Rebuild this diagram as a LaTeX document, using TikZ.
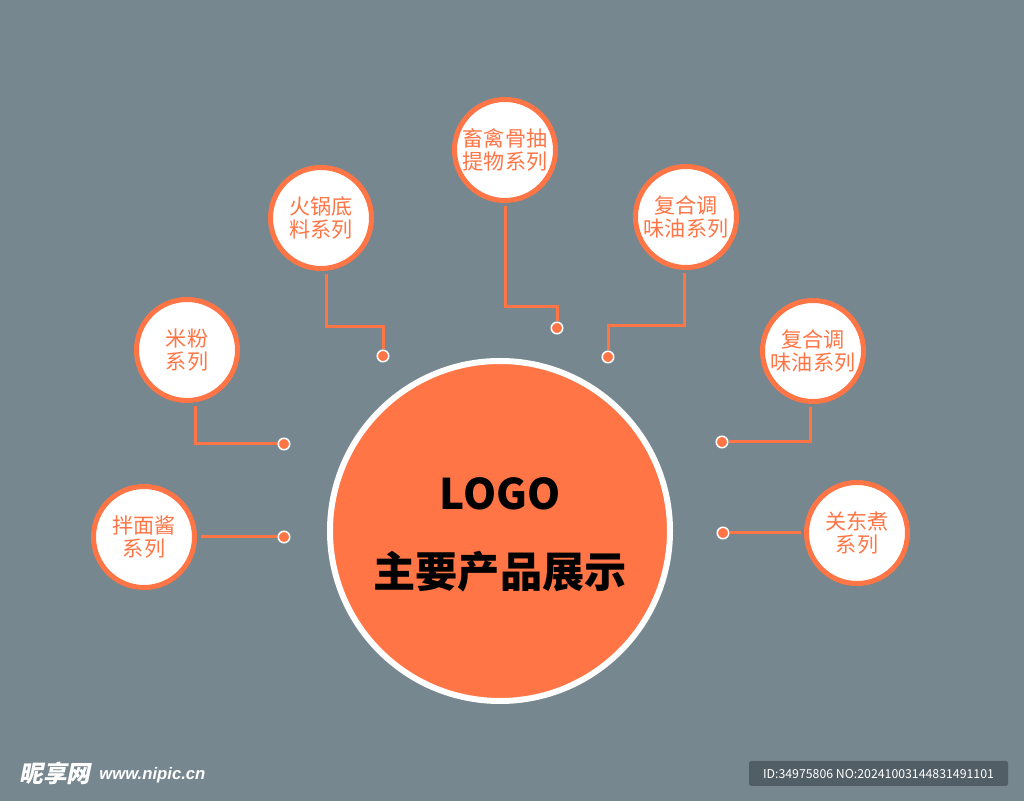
\documentclass[tikz,border=0pt]{standalone}
\usepackage{fontspec}
\setmainfont{Noto Sans CJK SC}
\newfontfamily\markfont[FakeSlant=0.2]{Noto Sans CJK SC}
\newfontfamily\webfont{Liberation Sans}
\pgfdeclarelayer{bglayer}
\pgfdeclarelayer{edgelayer}
\pgfdeclarelayer{nodelayer}
\pgfsetlayers{bglayer,edgelayer,nodelayer,main}
\definecolor{slate}{RGB}{119,135,143}
\definecolor{tangerine}{RGB}{255,117,69}
\definecolor{tagbox}{RGB}{82,94,102}
\tikzstyle{hub}=[circle,fill=tangerine,draw=white,line width=1.2mm,minimum size=68mm,inner sep=0pt,align=center,font=\bfseries\fontsize{24pt}{44.5pt}\selectfont]
\tikzstyle{product}=[circle,fill=white,draw=tangerine,line width=1mm,minimum size=20.2mm,inner sep=0pt,outer sep=1.2mm,align=center,text=tangerine,font=\fontsize{12pt}{13.5pt}\selectfont]
\tikzstyle{joint}=[circle,fill=tangerine,draw=white,line width=0.3mm,minimum size=2.3mm,inner sep=0pt]
\tikzstyle{link}=[draw=tangerine,line width=0.6mm]

\begin{document}
\begin{tikzpicture}[x=0.2mm,y=-0.2mm]
	\begin{pgfonlayer}{bglayer}
		\fill [slate] (0,0) rectangle (1024,801);
	\end{pgfonlayer}
	\useasboundingbox (0,0) rectangle (1024,801);
	\begin{pgfonlayer}{nodelayer}
		\node [style=hub] (0) at (500, 531) {\rule{0pt}{22.5pt}LOGO\\主要产品展示};
		\node [style=product] (1) at (505, 150) {畜禽骨抽\\提物系列};
		\node [style=product] (2) at (321, 218) {火锅底\\料系列};
		\node [style=product] (3) at (686, 217) {复合调\\味油系列};
		\node [style=product] (4) at (187, 350) {米粉\\系列};
		\node [style=product] (5) at (813, 351) {复合调\\味油系列};
		\node [style=product] (6) at (144, 537) {拌面酱\\系列};
		\node [style=product] (7) at (857, 533) {关东煮\\系列};
		\node [style=joint] (8) at (557, 328) {};
		\node [style=joint] (9) at (383, 356) {};
		\node [style=joint] (10) at (608, 357) {};
		\node [style=joint] (11) at (284, 444) {};
		\node [style=joint] (12) at (722, 442) {};
		\node [style=joint] (13) at (284, 537) {};
		\node [style=joint] (14) at (723, 533) {};
	\end{pgfonlayer}
	\coordinate (b1) at (557, 307);
	\coordinate (b2) at (383, 327);
	\coordinate (b3) at (608, 326);
	\begin{pgfonlayer}{edgelayer}
		\draw [style=link] (1.south) |- (b1) -- (8);
		\draw [style=link] (2.-84) |- (b2) -- (9);
		\draw [style=link] (3.-92) |- (b3) -- (10);
		\draw [style=link] (4.-81) |- (11);
		\draw [style=link] (5.-93) |- (12);
		\draw [style=link] (6.east) -- (13);
		\draw [style=link] (14) -- (7.west);
	\end{pgfonlayer}
	% site marks
	\node [text=white, font=\markfont\bfseries\fontsize{13.5pt}{14pt}\selectfont] (15) at (55, 773) {昵享网};
	\node [anchor=west, inner sep=0pt, text=white, font=\webfont\bfseries\itshape\fontsize{9.5pt}{10pt}\selectfont] (16) at (99, 775) {www.nipic.cn};
	\node [fill=tagbox, rounded corners=1pt, minimum width=51.8mm, minimum height=5mm, inner sep=0pt, text=white, font=\fontsize{7pt}{8pt}\selectfont] (17) at (878.5, 773.5) {ID:34975806 NO:20241003144831491101};
\end{tikzpicture}
\end{document}
